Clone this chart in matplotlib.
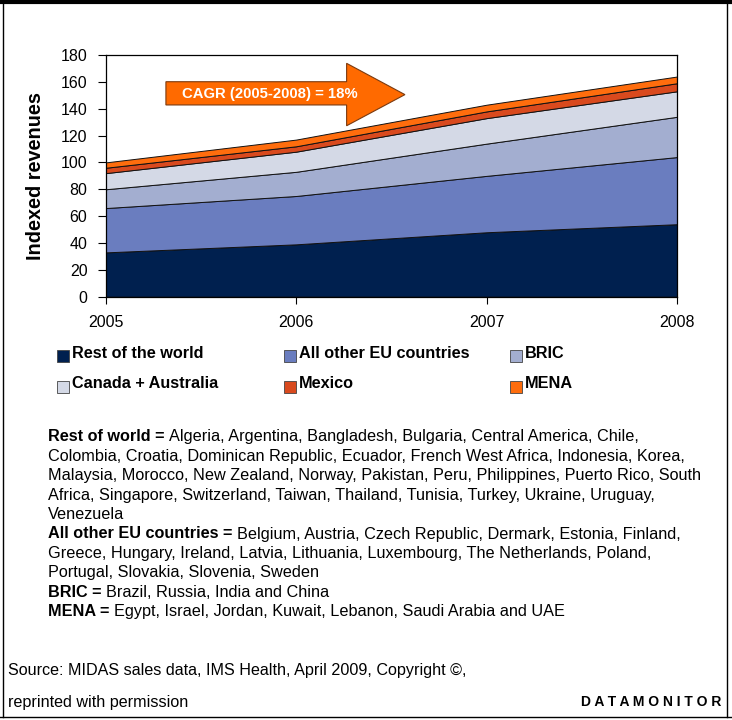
import matplotlib
matplotlib.use("Agg")
import matplotlib.pyplot as plt
from matplotlib.patches import Polygon, Rectangle
from matplotlib.lines import Line2D
import numpy as np

plt.rcParams['font.family'] = ['Liberation Sans', 'DejaVu Sans']

# ---- data ----
years = [2005, 2006, 2007, 2008]
series_names = ["Rest of the world", "All other EU countries", "BRIC",
                "Canada + Australia", "Mexico", "MENA"]
rest_of_world = [33, 39, 48, 54]
other_eu = [33, 36, 42, 50]
bric = [14, 18, 24, 30]
canada_australia = [12, 15, 19, 19]
mexico = [4, 4, 5, 6]
mena = [4, 5, 5, 5]
series_values = [rest_of_world, other_eu, bric, canada_australia, mexico, mena]
colors = ["#00204F", "#6A7DBF", "#A3AED0", "#D4D9E6", "#D94A1E", "#FF6D0D"]
y_ticks = list(range(0, 181, 20))
cagr_label = "CAGR (2005-2008) = 18%"

W, H = 732, 720
fig = plt.figure(figsize=(W / 100, H / 100), dpi=100)

def fx(px):
    return px / W

def fy(py):
    return 1 - py / H

# axes
left, right, top, bottom = 105.5, 677.3, 55, 296.7
ax = fig.add_axes([fx(left), fy(bottom), fx(right) - fx(left), fy(top) - fy(bottom)])
ax.stackplot(years, *series_values, colors=colors, edgecolor="#111111", linewidth=0.7)
ax.set_xlim(2005, 2008)
ax.set_ylim(0, 180)
ax.set_xticks(years)
ax.set_xticklabels([str(y) for y in years], fontsize=11.5)
ax.set_yticks(y_ticks)
ax.set_yticklabels([str(v) for v in y_ticks], fontsize=11.5)
ax.tick_params(axis='y', direction='out', length=6, width=0.8, pad=7)
ax.tick_params(axis='x', direction='out', length=5, width=0.8, pad=8)
for s in ax.spines.values():
    s.set_linewidth(0.9)
    s.set_color("black")
ax.set_ylabel("Indexed revenues", fontsize=14.3, fontweight='bold', labelpad=11)

# CAGR arrow (annotation shape in data coords)
arrow_pts = [(2005.317, 142.8), (2005.317, 160.1), (2006.265, 160.1),
             (2006.265, 173.8), (2006.571, 150.5), (2006.265, 127.3),
             (2006.265, 142.8)]
ax.add_patch(Polygon(arrow_pts, closed=True, facecolor="#FF6A00",
                     edgecolor="#7A3A10", linewidth=0.8, zorder=5))
ax.text(2005.86, 151.3, cagr_label, color="white", fontsize=10.7, fontweight='bold',
        ha='center', va='center', zorder=6)

# legend (manual, 3 columns x 2 rows)
col_x = [57, 284, 510]
row_y = [356, 387]
for i, (name, col) in enumerate(zip(series_names, colors)):
    r, c = divmod(i, 3)
    sx, sy = col_x[c], row_y[r]
    fig.patches.append(Rectangle((fx(sx), fy(sy + 6)), 12 / W, 12 / H,
                                 transform=fig.transFigure, facecolor=col,
                                 edgecolor="#444444", linewidth=0.6))
    fig.text(fx(sx + 15), fy(sy - 3), name, fontsize=11.7, fontweight='bold',
             ha='left', va='center')

# description block
desc = [
    ("Rest of world = ", "Algeria, Argentina, Bangladesh, Bulgaria, Central America, Chile,"),
    ("", "Colombia, Croatia, Dominican Republic, Ecuador, French West Africa, Indonesia, Korea,"),
    ("", "Malaysia, Morocco, New Zealand, Norway, Pakistan, Peru, Philippines, Puerto Rico, South"),
    ("", "Africa, Singapore, Switzerland, Taiwan, Thailand, Tunisia, Turkey, Ukraine, Uruguay,"),
    ("", "Venezuela"),
    ("All other EU countries = ", "Belgium, Austria, Czech Republic, Dermark, Estonia, Finland,"),
    ("", "Greece, Hungary, Ireland, Latvia, Lithuania, Luxembourg, The Netherlands, Poland,"),
    ("", "Portugal, Slovakia, Slovenia, Sweden"),
    ("BRIC = ", "Brazil, Russia, India and China"),
    ("MENA = ", "Egypt, Israel, Jordan, Kuwait, Lebanon, Saudi Arabia and UAE"),
]
renderer = fig.canvas.get_renderer()
y0, dy = 437, 19.4
for i, (b, n) in enumerate(desc):
    yy = fy(y0 + i * dy)
    x = 48
    if b:
        t = fig.text(fx(x), yy, b, fontsize=11.7, fontweight='bold', ha='left', va='center')
        bb = t.get_window_extent(renderer=renderer)
        x = x + bb.width
    fig.text(fx(x), yy, n, fontsize=11.7, ha='left', va='center')

# source
fig.text(fx(8), fy(671), "Source: MIDAS sales data, IMS Health, April 2009, Copyright \u00a9,",
         fontsize=11.6, ha='left', va='center')
fig.text(fx(8), fy(702), "reprinted with permission", fontsize=11.6, ha='left', va='center')
fig.text(fx(721), fy(702), " ".join("DATAMONITOR"), fontsize=10, fontweight='bold',
         ha='right', va='center')

# outer frame
fig.add_artist(Line2D([fx(0), fx(W)], [fy(1.5), fy(1.5)], color='black', linewidth=3,
                      transform=fig.transFigure))
fig.add_artist(Line2D([fx(2.5), fx(2.5)], [fy(0), fy(717)], color='black', linewidth=1,
                      transform=fig.transFigure))
fig.add_artist(Line2D([fx(727), fx(727)], [fy(0), fy(717)], color='black', linewidth=1,
                      transform=fig.transFigure))
fig.add_artist(Line2D([fx(0), fx(W)], [fy(717), fy(717)], color='black', linewidth=1,
                      transform=fig.transFigure))

fig.savefig("out.png", dpi=100)
